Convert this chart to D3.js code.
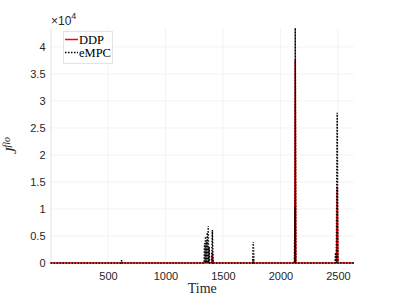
<!DOCTYPE html>
<html>
<head>
<meta charset="utf-8">
<script src="https://cdn.jsdelivr.net/npm/d3@7"></script>
<style>
  body { margin: 0; background: #fff; }
  svg { display: block; }
</style>
</head>
<body>
<div id="chart"></div>
<script>
'use strict';

// spikes, baseline is zero between them
var ddpTime = [0, 1402, 1408, 1414, 1758, 1764, 1770, 2124, 2129, 2134, 2488, 2494, 2500, 2640];
var ddpVal  = [0, 0, 2000, 0, 0, 400, 0, 0, 37600, 0, 0, 14100, 0, 0];

var empcTime = [0, 613, 619, 625,
    1336, 1340, 1344, 1348, 1352, 1356, 1360, 1364, 1368, 1372, 1376, 1380, 1384,
    1402, 1408, 1414,
    1758, 1764, 1770,
    2122, 2126, 2127, 2129, 2134,
    2474, 2480, 2486, 2494, 2500, 2640];
var empcVal  = [0, 0, 500, 0,
    0, 3700, 0, 4900, 0, 4200, 0, 5600, 0, 6850, 0, 3000, 0,
    0, 6100, 0,
    0, 3900, 0,
    0, 10500, 0, 43500, 0,
    0, 1900, 0, 27800, 0, 0];

var xTicks = [500, 1000, 1500, 2000, 2500];
var yTicks = [0, 5000, 10000, 15000, 20000, 25000, 30000, 35000, 40000];
var legendNames = ['DDP', 'eMPC'];

var width = 399, height = 299;
var mLeft = 50.5, mRight = 354, mTop = 28, mBottom = 263;

var svg = d3.select('#chart').append('svg')
    .attr('width', width)
    .attr('height', height);

var x = d3.scaleLinear().domain([0, 2640]).range([mLeft, mRight]);
var y = d3.scaleLinear().domain([0, 43500]).range([mBottom, mTop]);

// grid
svg.append('g').selectAll('line')
    .data(xTicks).enter().append('line')
    .attr('x1', function (d) { return x(d); })
    .attr('x2', function (d) { return x(d); })
    .attr('y1', mTop).attr('y2', mBottom)
    .attr('stroke', '#ebebeb').attr('stroke-width', 0.6);
svg.append('g').selectAll('line')
    .data(yTicks).enter().append('line')
    .attr('x1', mLeft).attr('x2', mRight)
    .attr('y1', function (d) { return y(d); })
    .attr('y2', function (d) { return y(d); })
    .attr('stroke', '#ebebeb').attr('stroke-width', 0.6);

// axes
var xAxis = svg.append('g')
    .attr('transform', 'translate(0,' + mBottom + ')')
    .call(d3.axisBottom(x).tickValues(xTicks).tickSize(0).tickPadding(9)
        .tickFormat(d3.format('d')));
var yAxis = svg.append('g')
    .attr('transform', 'translate(' + mLeft + ',0)')
    .call(d3.axisLeft(y).tickValues(yTicks).tickSize(0).tickPadding(5)
        .tickFormat(function (d) { return d3.format('~g')(d / 10000); }));
[xAxis, yAxis].forEach(function (a) {
    a.select('.domain').attr('stroke', '#d0d0d0').attr('stroke-width', 0.6);
    a.selectAll('text')
        .attr('fill', '#262626')
        .style('font-family', '"Liberation Sans", Arial, sans-serif')
        .style('font-size', '11px');
});
xAxis.select('.domain').attr('stroke', 'none');

// lines
var line = d3.line()
    .x(function (d) { return x(d[0]); })
    .y(function (d) { return y(d[1]); });

var ddpData = d3.zip(ddpTime, ddpVal);
var empcData = d3.zip(empcTime, empcVal);

svg.append('path')
    .datum(ddpData)
    .attr('d', line)
    .attr('fill', 'none')
    .attr('stroke', '#ff0000')
    .attr('stroke-width', 1.5);

svg.append('path')
    .datum(empcData)
    .attr('d', line)
    .attr('fill', 'none')
    .attr('stroke', '#000')
    .attr('stroke-width', 1.5)
    .attr('stroke-dasharray', '1.5,1.5');

// labels
svg.append('text')
    .attr('x', x(1320)).attr('y', 293)
    .attr('text-anchor', 'middle')
    .style('font-family', '"Liberation Serif", "Times New Roman", serif')
    .style('font-size', '14px')
    .attr('fill', '#262626')
    .text('Time');

var yl = svg.append('text')
    .attr('transform', 'translate(16,' + ((mTop + mBottom) / 2) + ') rotate(-90)')
    .attr('text-anchor', 'middle')
    .style('font-family', '"Liberation Serif", "Times New Roman", serif')
    .style('font-style', 'italic')
    .attr('fill', '#262626');
yl.append('tspan').style('font-size', '15px').text('J');
yl.append('tspan').style('font-size', '10px').attr('dy', -6).text('flo');

var ex = svg.append('text')
    .attr('x', 51).attr('y', 25)
    .style('font-family', '"Liberation Sans", Arial, sans-serif')
    .attr('fill', '#262626');
ex.append('tspan').style('font-size', '12px').text('\u00d710');
ex.append('tspan').style('font-size', '9px').attr('dy', -6).text('4');

// legend
var lg = svg.append('g');
lg.append('rect')
    .attr('x', 63.5).attr('y', 31.5)
    .attr('width', 49).attr('height', 32)
    .attr('fill', '#fff')
    .attr('stroke', '#d9d9d9')
    .attr('stroke-width', 0.7);
var legendRow = lg.selectAll('g.row')
    .data(legendNames).enter().append('g')
    .attr('class', 'row')
    .attr('transform', function (d, i) { return 'translate(0,' + (39.5 + i * 13) + ')'; });
legendRow.append('line')
    .attr('x1', 65).attr('x2', 78)
    .attr('stroke', function (d, i) { return i === 0 ? '#ff0000' : '#000'; })
    .attr('stroke-width', 1.5)
    .attr('stroke-dasharray', function (d, i) { return i === 0 ? null : '1.5,1.5'; });
legendRow.append('text')
    .attr('x', 79).attr('y', 4)
    .style('font-family', '"Liberation Serif", "Times New Roman", serif')
    .style('font-size', '12.5px')
    .attr('fill', '#000')
    .text(function (d) { return d; });
</script>
</body>
</html>
